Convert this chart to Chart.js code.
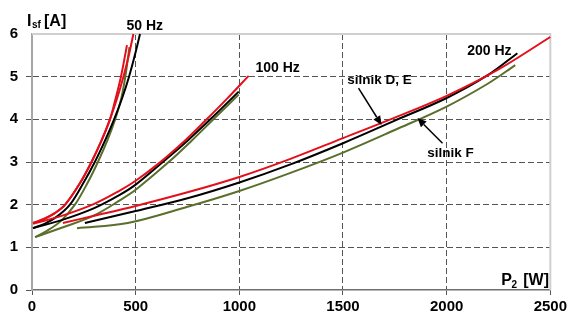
<!DOCTYPE html>
<html>
<head>
<meta charset="utf-8">
<script src="https://cdn.jsdelivr.net/npm/chart.js@4/dist/chart.umd.min.js"></script>
<style>
  html, body { margin: 0; padding: 0; background: #fff; }
  #wrap { width: 570px; height: 320px; }
</style>
</head>
<body>
<div id="wrap"><canvas id="chart" width="570" height="320"></canvas></div>
<script>
// tick values
const xTicks = [0, 500, 1000, 1500, 2000, 2500];
const yTicks = [0, 1, 2, 3, 4, 5, 6];

// 50 Hz curves: P2 [W] and Isf [A]
const p50RedA = [5, 60, 110, 160, 231, 287, 335, 376, 411, 441, 467, 489];
const i50RedA = [1.57, 1.67, 1.8, 2.0, 2.5, 3.0, 3.5, 4.0, 4.5, 5.0, 5.5, 6.0];
const p50RedB = [5, 60, 110, 160, 231, 287, 335, 376, 404, 429, 449, 458];
const i50RedB = [1.57, 1.67, 1.8, 2.0, 2.5, 3.0, 3.5, 4.0, 4.5, 5.0, 5.5, 5.74];
const p50Black = [5, 60, 120, 183, 247, 303, 352, 396, 435, 468, 496, 521];
const i50Black = [1.45, 1.55, 1.72, 2.0, 2.5, 3.0, 3.5, 4.0, 4.5, 5.0, 5.5, 6.0];
const p50Green = [15, 70, 140, 207, 267, 318, 363, 401, 431, 450, 470];
const i50Green = [1.24, 1.38, 1.62, 2.0, 2.5, 3.0, 3.5, 4.0, 4.5, 5.0, 5.69];

// 100 Hz curves
const p100Red = [5, 150, 300, 423, 500, 607, 737, 834, 940, 1045];
const i100Red = [1.55, 1.75, 2.02, 2.33, 2.56, 2.95, 3.5, 3.96, 4.48, 5.02];
const p100Black = [5, 150, 300, 423, 500, 631, 750, 860, 997];
const i100Black = [1.45, 1.65, 1.92, 2.23, 2.47, 3.0, 3.5, 4.0, 4.65];
const p100Green = [15, 150, 300, 423, 500, 655, 770, 875, 997];
const i100Green = [1.24, 1.47, 1.75, 2.1, 2.35, 2.98, 3.5, 4.0, 4.58];

// 200 Hz curves
const p200Red = [149, 300, 500, 750, 1000, 1250, 1500, 1750, 2000, 2250, 2500];
const i200Red = [1.57, 1.74, 1.97, 2.29, 2.65, 3.08, 3.56, 4.04, 4.55, 5.17, 5.93];
const p200Black = [255, 500, 750, 1000, 1250, 1500, 1750, 2000, 2200, 2341];
const i200Black = [1.57, 1.85, 2.15, 2.52, 2.95, 3.44, 3.97, 4.5, 5.04, 5.55];
const p200Green = [217, 462, 750, 1000, 1250, 1500, 1750, 2000, 2200, 2331];
const i200Green = [1.45, 1.57, 1.95, 2.32, 2.75, 3.22, 3.75, 4.3, 4.84, 5.27];

const RED = '#e3101c';
const BLACK = '#000000';
const GREEN = '#5a6f2c';

function curve(px, iy, color) {
  return {
    data: px.map((p, k) => ({ x: p, y: iy[k] })),
    borderColor: color,
    backgroundColor: color,
    borderWidth: 2,
    showLine: true,
    pointRadius: 0,
    tension: 0.35,
    clip: 2
  };
}

const FONT = '"Liberation Sans", Arial, sans-serif';

// labels, arrows, top and right frame
const overlayPlugin = {
  id: 'overlay',
  beforeDatasetsDraw(chart) {
    const { ctx, chartArea: a } = chart;
    ctx.save();
    ctx.strokeStyle = '#d0d0d0';
    ctx.lineWidth = 2;
    ctx.beginPath();
    ctx.moveTo(a.left, a.top);
    ctx.lineTo(a.right, a.top);
    ctx.lineTo(a.right, a.bottom);
    ctx.stroke();
    ctx.restore();
  },
  afterDraw(chart) {
    const { ctx, scales } = chart;
    const X = v => scales.x.getPixelForValue(v);
    const Y = v => scales.y.getPixelForValue(v);
    ctx.save();
    ctx.fillStyle = '#000';
    ctx.textBaseline = 'middle';
    ctx.textAlign = 'center';
    ctx.font = 'bold 14px ' + FONT;
    ctx.fillText('50 Hz', X(544), Y(6.19));
    ctx.fillText('100 Hz', X(1185), Y(5.2));
    ctx.fillText('200 Hz', X(2206), Y(5.6));
    ctx.font = 'bold 13.5px ' + FONT;
    ctx.fillText('silnik D, E', X(1676), Y(4.92));
    ctx.fillText('silnik F', X(2018), Y(3.21));

    // arrows
    arrow(ctx, X(1575), Y(4.73), X(1686), Y(3.87));
    arrow(ctx, X(1980), Y(3.44), X(1859), Y(4.03));

    // axis titles
    ctx.textAlign = 'left';
    ctx.textBaseline = 'alphabetic';
    ctx.font = 'bold 16px ' + FONT;
    ctx.fillText('I', 27, 26);
    ctx.font = 'bold 10px ' + FONT;
    ctx.fillText('sf', 32, 28);
    ctx.font = 'bold 16px ' + FONT;
    ctx.fillText('[A]', 44, 26);

    ctx.textAlign = 'right';
    ctx.fillText('[W]', 549, 285);
    ctx.font = 'bold 10px ' + FONT;
    ctx.fillText('2', 517, 288);
    ctx.font = 'bold 16px ' + FONT;
    ctx.fillText('P', 512, 285);
    ctx.restore();
  }
};

function arrow(ctx, x1, y1, x2, y2) {
  const ang = Math.atan2(y2 - y1, x2 - x1);
  const len = 9, w = 4;
  ctx.save();
  ctx.strokeStyle = '#000';
  ctx.fillStyle = '#000';
  ctx.lineWidth = 1.5;
  ctx.beginPath();
  ctx.moveTo(x1, y1);
  ctx.lineTo(x2 - Math.cos(ang) * len, y2 - Math.sin(ang) * len);
  ctx.stroke();
  ctx.beginPath();
  ctx.moveTo(x2, y2);
  ctx.lineTo(x2 - Math.cos(ang) * len - Math.sin(ang) * w, y2 - Math.sin(ang) * len + Math.cos(ang) * w);
  ctx.lineTo(x2 - Math.cos(ang) * len + Math.sin(ang) * w, y2 - Math.sin(ang) * len - Math.cos(ang) * w);
  ctx.closePath();
  ctx.fill();
  ctx.restore();
}

new Chart(document.getElementById('chart'), {
  type: 'scatter',
  data: {
    datasets: [
      curve(p50Green, i50Green, GREEN),
      curve(p100Green, i100Green, GREEN),
      curve(p200Green, i200Green, GREEN),
      curve(p50Black, i50Black, BLACK),
      curve(p100Black, i100Black, BLACK),
      curve(p200Black, i200Black, BLACK),
      curve(p50RedA, i50RedA, RED),
      curve(p50RedB, i50RedB, RED),
      curve(p100Red, i100Red, RED),
      curve(p200Red, i200Red, RED)
    ].reverse()
  },
  options: {
    responsive: false,
    animation: false,
    layout: { padding: { top: 34, right: 19, left: 0, bottom: 0 } },
    plugins: {
      legend: { display: false },
      tooltip: { enabled: false }
    },
    scales: {
      x: {
        type: 'linear',
        min: 0,
        max: 2500,
        afterBuildTicks: s => { s.ticks = xTicks.map(v => ({ value: v })); },
        afterFit: s => { s.height = 30; },
        ticks: {
          color: '#000',
          font: { family: FONT, size: 15, weight: 'bold' },
          padding: 3,
          maxRotation: 0,
          callback: v => String(v)
        },
        grid: {
          color: c => (c.tick && (c.tick.value === 0 || c.tick.value === 2500)) ? 'rgba(0,0,0,0)' : '#555',
          tickColor: '#555',
          tickLength: 5,
          lineWidth: 1
        },
        border: { display: true, color: '#6f6f6f', width: 1.5, dash: [6, 3] }
      },
      y: {
        min: 0,
        max: 6,
        afterBuildTicks: s => { s.ticks = yTicks.map(v => ({ value: v })); },
        afterFit: s => { s.width = 32; },
        ticks: {
          color: '#000',
          font: { family: FONT, size: 15, weight: 'bold' },
          padding: 8,
          callback: v => String(v)
        },
        grid: {
          color: c => (c.tick && (c.tick.value === 0 || c.tick.value === 6)) ? 'rgba(0,0,0,0)' : '#555',
          tickColor: c => (c.tick && c.tick.value === 6) ? 'rgba(0,0,0,0)' : '#555',
          tickLength: 6,
          tickBorderDash: [6, 3],
          lineWidth: 1
        },
        border: { display: true, color: '#a6a6a6', width: 2, dash: [6, 3] }
      }
    }
  },
  plugins: [overlayPlugin]
});
</script>
</body>
</html>
